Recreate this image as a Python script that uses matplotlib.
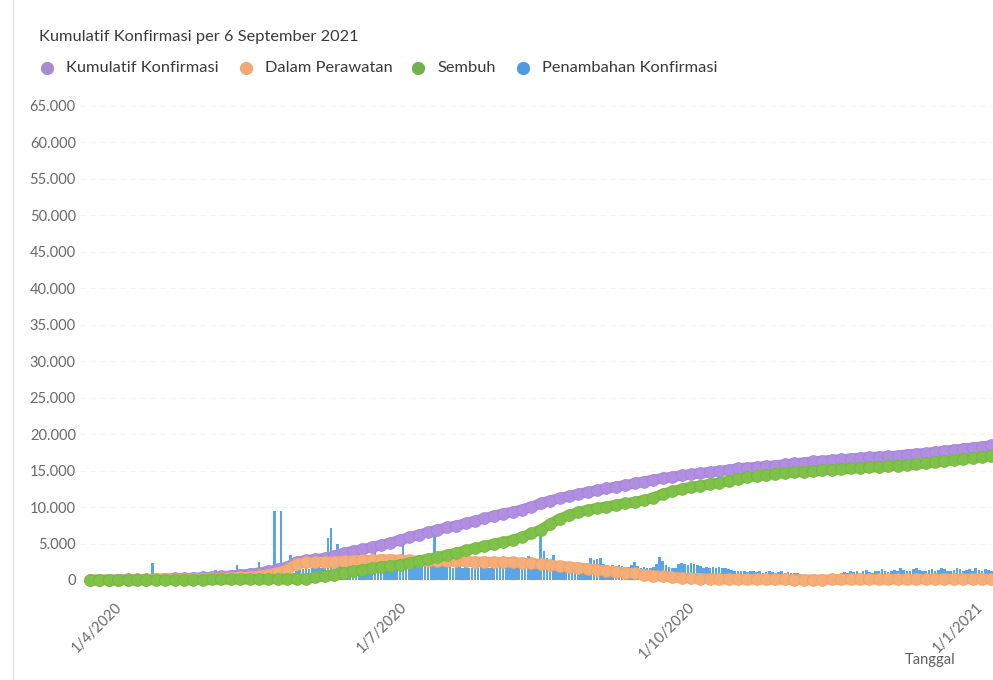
import numpy as np
import matplotlib
matplotlib.use('Agg')
import matplotlib.pyplot as plt
from matplotlib.lines import Line2D
from matplotlib.ticker import FuncFormatter, MultipleLocator

plt.rcParams['font.family'] = ['Lato', 'DejaVu Sans']

start_date = np.datetime64('2020-03-24')

# penambahan konfirmasi harian, satu nilai per hari mulai 24/3/2020
daily_new = [
    10, 20, 15, 30, 25, 40, 30, 50, 45, 60,
    55, 70, 60, 80, 90, 75, 100, 85, 110, 120,
    2300, 150, 130, 180, 160, 200, 170, 220, 190, 240,
    210, 260, 230, 280, 250, 300, 270, 320, 290, 350,
    1400, 380, 1300, 400, 360, 450, 420, 2000, 480, 520,
    500, 1500, 560, 600, 2500, 650, 620, 700, 680, 9500,
    750, 9500, 800, 850, 3400, 900, 1200, 1400, 1500, 1600,
    1500, 1700, 1600, 1800, 1700, 1900, 5800, 7100, 1800, 5000,
    1900, 2000, 1800, 2100, 1900, 2200, 2000, 2100, 1900, 2000,
    2200, 3800, 2100, 2000, 2300, 2100, 2200, 2000, 2100, 2300,
    4800, 2200, 2100, 2300, 3200, 3200, 2100, 2000, 2200, 2100,
    6500, 2000, 1900, 2200, 1800, 1900, 1700, 1800, 1900, 1700,
    1800, 1700, 1600, 1800, 1700, 1900, 1800, 1700, 1600, 1800,
    1700, 1800, 1900, 2000, 1800, 2200, 2400, 2100, 2300, 2600,
    3300, 2500, 2400, 2800, 6200, 4000, 3000, 2800, 3400, 2600,
    2400, 2500, 2300, 2200, 2100, 2000, 2200, 1900, 2100, 2300,
    3000, 2800, 2900, 3000, 2200, 2000, 1900, 2100, 1800, 2000,
    1900, 1700, 1800, 2000, 2500, 1900, 1700, 1800, 1600, 1700,
    1800, 2200, 3200, 2600, 2000, 1800, 1600, 1700, 2200, 2300,
    2200, 2100, 2300, 2200, 2000, 1900, 1600, 1800, 1700, 1800,
    1700, 1800, 1600, 1700, 1500, 1400, 1300, 1200, 1300, 1200,
    1100, 1200, 1300, 1100, 1200, 1000, 1100, 1200, 1100, 1000,
    1100, 1200, 1000, 1100, 900, 1000, 900, 800, 700, 600,
    500, 600, 400, 500, 600, 500, 400, 600, 500, 700,
    900, 1100, 1000, 1200, 1100, 1300, 1000, 1200, 1400, 1100,
    1000, 1300, 1200, 1500, 1300, 1100, 1200, 1400, 1300, 1600,
    1400, 1200, 1300, 1500, 1700, 1400, 1300, 1200, 1400, 1500,
    1300, 1400, 1600, 1500, 1300, 1200, 1400, 1600, 1500, 1300,
    1400, 1500, 1300, 1600, 1400, 1200, 1500, 1400, 1300,
]

# nilai kumulatif tiap 3 hari
kumulatif = [
    20, 30, 40, 60, 80, 100, 120, 150, 180, 210,
    250, 300, 350, 420, 500, 600, 720, 850, 1000, 1200,
    1450, 1800, 2500, 2700, 2850, 3000, 3300, 3700, 3950, 4200,
    4500, 4800, 5100, 5500, 5850, 6200, 6550, 6900, 7200, 7450,
    7750, 8100, 8450, 8800, 9100, 9350, 9650, 10050, 10500, 10900,
    11200, 11500, 11800, 12050, 12300, 12550, 12800, 13000, 13250, 13500,
    13750, 13950, 14150, 14350, 14500, 14650, 14800, 14950, 15100, 15300,
    15400, 15500, 15600, 15700, 15850, 16000, 16100, 16250, 16350, 16450,
    16550, 16650, 16750, 16850, 16900, 16950, 17050, 17200, 17300, 17400,
    17550, 17700, 17850, 18000, 18150, 18300, 18450,
]
perawatan = [
    20, 25, 30, 35, 40, 50, 60, 70, 90, 110,
    130, 150, 180, 220, 260, 300, 350, 420, 550, 750,
    1000, 1400, 2200, 2400, 2400, 2450, 2500, 2600, 2650, 2700,
    2750, 2800, 2800, 2750, 2700, 2650, 2650, 2600, 2600, 2550,
    2550, 2500, 2500, 2450, 2450, 2400, 2350, 2300, 2200, 2050,
    1900, 1800, 1700, 1550, 1400, 1300, 1150, 1000, 900, 750,
    600, 500, 400, 300, 250, 200, 160, 130, 110, 100,
    90, 80, 80, 70, 70, 60, 60, 60, 60, 70,
    70, 80, 80, 90, 90, 100, 100, 110, 110, 120,
    120, 130, 130, 140, 140, 150, 150,
]
sembuh = [
    0, 0, 0, 5, 10, 15, 20, 25, 30, 35,
    40, 50, 60, 70, 80, 90, 100, 110, 120, 130,
    140, 150, 160, 170, 350, 550, 750, 950, 1200, 1400,
    1600, 1800, 1950, 2100, 2350, 2650, 2900, 3150, 3400, 3700,
    4050, 4350, 4650, 4950, 5200, 5450, 5900, 6400, 6900, 7700,
    8400, 8900, 9300, 9600, 9850, 10050, 10300, 10500, 10700, 10950,
    11300, 11800, 12150, 12500, 12750, 12950, 13150, 13350, 13600, 13900,
    14100, 14300, 14450, 14600, 14700, 14800, 14850, 14950, 15050, 15150,
    15200, 15300, 15400, 15450, 15500, 15600, 15700, 15800, 15900, 16000,
    16150, 16300, 16450, 16600, 16750, 16900, 17050,
]

tick_dates = ['2020-04-01', '2020-07-01', '2020-10-01', '2021-01-01']
tick_labels = ['1/4/2020', '1/7/2020', '1/10/2020', '1/1/2021']

series = [
    ('Kumulatif Konfirmasi', kumulatif, '#b08fe0', '#a283d3', '#a58ccd'),
    ('Dalam Perawatan', perawatan, '#f6ae78', '#eea169', '#f1a877'),
    ('Sembuh', sembuh, '#80c14a', '#74b53f', '#72b24c'),
]
bar_color = '#5aa5e6'
legend_blue = '#4d9be0'


def to_days(d):
    return (np.datetime64(d) - start_date).astype(int)


fig = plt.figure(figsize=(9.93, 6.8), dpi=100)
ax = fig.add_axes([80 / 993, 88 / 680, 913 / 993, 497 / 680])

bar_x = np.arange(len(daily_new))
ax.bar(bar_x, daily_new, width=0.85, color=bar_color, zorder=1, linewidth=0)

for z, (name, vals, face, edge, _) in enumerate(series):
    x = np.arange(len(vals)) * 3
    ax.plot(x, vals, color=face, lw=7.5, zorder=2 + z, solid_capstyle='round')
    ax.plot(x, vals, ls='none', marker='o', ms=8.5, mfc=face, mec=edge,
            mew=0.5, zorder=2 + z)

ax.set_xlim(to_days('2020-04-01') - 11.2, to_days('2020-04-01') + 280.5)
ax.set_ylim(-1646, 66508)

ax.yaxis.set_major_locator(MultipleLocator(5000))
ax.yaxis.set_major_formatter(FuncFormatter(lambda v, p: f'{v:,.0f}'.replace(',', '.')))
ax.set_xticks([to_days(d) for d in tick_dates])
ax.set_xticklabels(tick_labels, rotation=45, ha='right', va='top',
                   rotation_mode='anchor')
ax.tick_params(axis='both', length=0, labelsize=10.5, colors='#686868')
ax.tick_params(axis='y', pad=3)
ax.tick_params(axis='x', pad=6)
ax.grid(axis='y', color='#f3f3f3', lw=0.8, ls=(0, (5, 4)), zorder=0)
ax.set_axisbelow(True)
for s in ax.spines.values():
    s.set_visible(False)

fig.text(39 / 993, 1 - 37 / 680, 'Kumulatif Konfirmasi per 6 September 2021',
         fontsize=11.8, color='#3a3a3a', va='center', ha='left')

legend_items = [(s[0], s[4]) for s in series] + [('Penambahan Konfirmasi', legend_blue)]
dot_x = [47, 246, 418, 523]
for (label, col), px in zip(legend_items, dot_x):
    fig.add_artist(Line2D([px / 993], [1 - 68 / 680], transform=fig.transFigure,
                          marker='o', ms=8.5, color=col, ls='none'))
    fig.text((px + 19) / 993, 1 - 68 / 680, label, fontsize=11.8,
             color='#3a3a3a', va='center', ha='left')

fig.text(955 / 993, 1 - 660 / 680, 'Tanggal', fontsize=10.5, color='#5f5f5f',
         ha='right', va='center')

# garis tepi kartu
fig.add_artist(Line2D([13 / 993, 13 / 993], [0, 1], transform=fig.transFigure,
                      color='#e4e4e4', lw=1))

fig.savefig('out.png', dpi=100, facecolor='white')
